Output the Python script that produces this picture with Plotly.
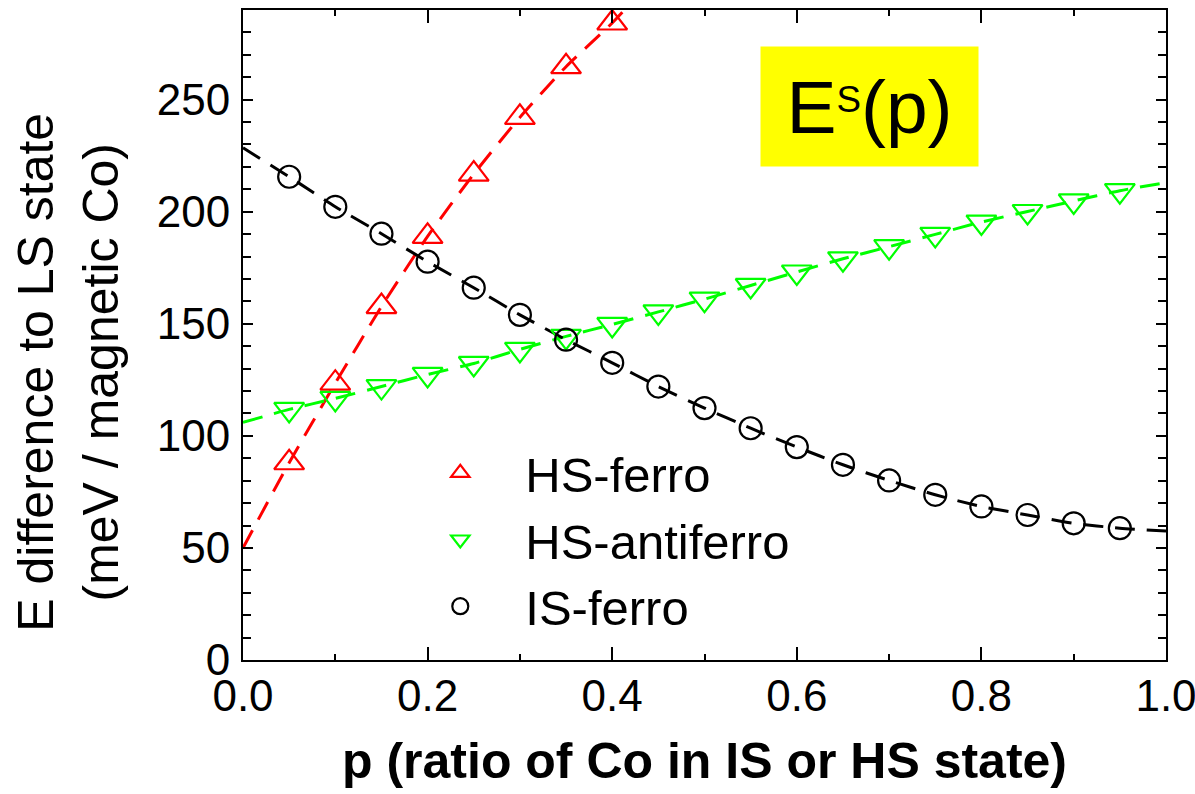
import plotly.graph_objects as go

# ---- data ----
p_pts = [0.05, 0.10, 0.15, 0.20, 0.25, 0.30, 0.35, 0.40, 0.45, 0.50,
         0.55, 0.60, 0.65, 0.70, 0.75, 0.80, 0.85, 0.90, 0.95]

p_hs_ferro = [0.05, 0.10, 0.15, 0.20, 0.25, 0.30, 0.35, 0.40]
e_hs_ferro = [88.0, 123.5, 157.7, 189.0, 216.8, 242.1, 264.7, 284.2]

e_hs_antiferro = [111.8, 116.7, 122.0, 127.4, 132.3, 138.6, 144.4, 149.7, 155.3,
                  161.0, 167.1, 173.1, 179.0, 184.4, 189.9, 195.4, 200.1, 204.8, 209.4]

e_is_ferro = [215.6, 202.2, 190.2, 177.7, 166.1, 154.0, 142.9, 132.6, 122.0,
              112.4, 103.4, 95.0, 87.1, 80.1, 73.7, 68.5, 64.7, 61.0, 58.8]

# fitted dashed curves: end points
fit_hs_ferro_start = (0.0, 50.0)
fit_hs_ferro_end = (0.42, 293.0)
fit_hs_af_start = (0.0, 106.0)
fit_hs_af_end = (1.0, 213.0)
fit_is_start = (0.0, 228.5)
fit_is_end = (1.0, 57.5)

x_ticks = [0.0, 0.2, 0.4, 0.6, 0.8, 1.0]
x_tick_labels = ["0.0", "0.2", "0.4", "0.6", "0.8", "1.0"]
y_ticks = [0, 50, 100, 150, 200, 250]

RED = "#ff0000"
GREEN = "#00ff00"
BLACK = "#000000"
FONT = "Liberation Sans, Arial, sans-serif"
DASH = "20px,12px"

fig = go.Figure()


def fit_line(start, xs, ys, end, color):
    fx = [start[0]] + list(xs) + [end[0]]
    fy = [start[1]] + list(ys) + [end[1]]
    fig.add_trace(go.Scatter(x=fx, y=fy, mode="lines", showlegend=False,
                             line=dict(color=color, width=3, dash=DASH, shape="spline", smoothing=0.6),
                             hoverinfo="skip"))


fit_line(fit_hs_ferro_start, p_hs_ferro, e_hs_ferro, fit_hs_ferro_end, RED)
fit_line(fit_hs_af_start, p_pts, e_hs_antiferro, fit_hs_af_end, GREEN)
fit_line(fit_is_start, p_pts, e_is_ferro, fit_is_end, BLACK)

fig.add_trace(go.Scatter(x=p_hs_ferro, y=e_hs_ferro, mode="markers", name="HS-ferro",
                         marker=dict(symbol="triangle-up-open", size=26, color=RED,
                                     line=dict(color=RED, width=2.2))))
fig.add_trace(go.Scatter(x=p_pts, y=e_hs_antiferro, mode="markers", name="HS-antiferro",
                         marker=dict(symbol="triangle-down-open", size=26, color=GREEN,
                                     line=dict(color=GREEN, width=2.2))))
fig.add_trace(go.Scatter(x=p_pts, y=e_is_ferro, mode="markers", name="IS-ferro",
                         marker=dict(symbol="circle-open", size=22, color=BLACK,
                                     line=dict(color=BLACK, width=2.2))))

axis_common = dict(showgrid=False, zeroline=False, showline=True, linecolor=BLACK, linewidth=2,
                   mirror="ticks", ticks="inside", tickcolor=BLACK, tickwidth=2,
                   ticklabeloverflow="allow",
                   tickfont=dict(family=FONT, size=44, color=BLACK))

fig.update_xaxes(range=[0, 1], tickvals=x_ticks, ticktext=x_tick_labels, ticklen=13,
                 ticklabelstandoff=-4,
                 minor=dict(dtick=0.1, ticks="inside", ticklen=6, tickwidth=2, tickcolor=BLACK),
                 **axis_common)
fig.update_yaxes(range=[0, 290], tickvals=y_ticks, ticklen=10, ticklabelstandoff=2,
                 minor=dict(dtick=10, ticks="inside", ticklen=8, tickwidth=2, tickcolor=BLACK),
                 **axis_common)

fig.add_annotation(xref="paper", yref="paper", x=0.5, y=-0.156, xanchor="center", yanchor="middle",
                   text="<b>p (ratio of Co in IS or HS state)</b>", showarrow=False,
                   font=dict(family=FONT, size=50, color=BLACK))
fig.add_annotation(xref="paper", yref="paper", x=-0.190, y=0.443, xanchor="center", yanchor="middle",
                   text="E difference to LS state<br>(meV / magnetic Co)", showarrow=False,
                   textangle=-90, font=dict(family=FONT, size=50, color=BLACK))
fig.add_annotation(xref="x", yref="y", x=0.679, y=247, xanchor="center", yanchor="middle",
                   text="E<sup><sub>S</sub></sup>(p)", showarrow=False,
                   width=215, height=117, bgcolor="#ffff00", borderpad=1,
                   font=dict(family=FONT, size=75, color=BLACK))

fig.update_layout(
    width=1195, height=794,
    margin=dict(l=243, r=29, t=10, b=134, autoexpand=False),
    paper_bgcolor="white", plot_bgcolor="white",
    showlegend=True,
    legend=dict(x=0.165, y=0.347, xanchor="left", yanchor="top", bgcolor="rgba(0,0,0,0)",
                font=dict(family=FONT, size=49, color=BLACK), itemwidth=120,
                tracegroupgap=0),
)

fig.write_html("out.html", config={"displayModeBar": False},
               post_script="document.body.style.margin='0px';")
